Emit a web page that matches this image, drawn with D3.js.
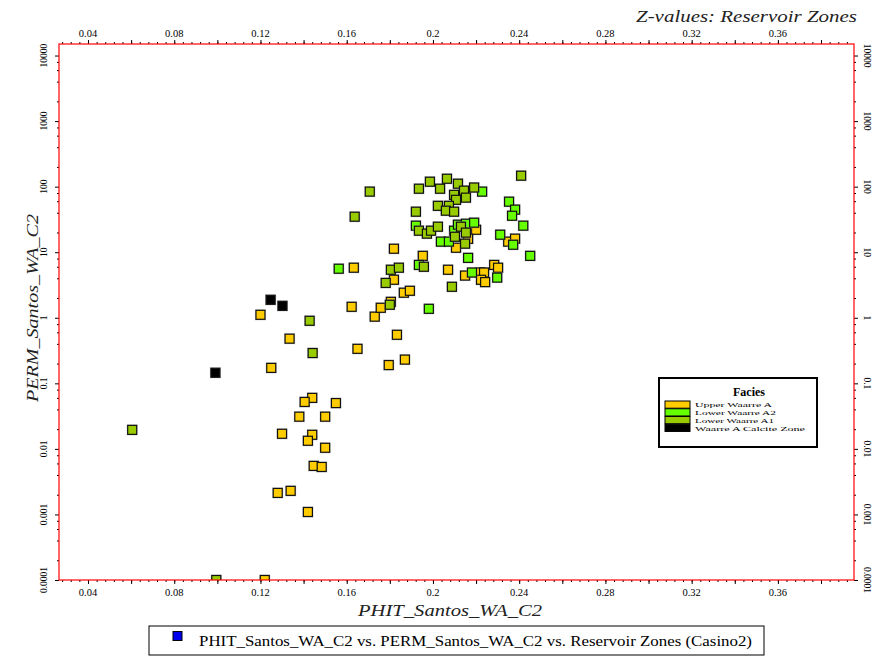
<!DOCTYPE html>
<html><head><meta charset="utf-8">
<script src="https://cdn.jsdelivr.net/npm/d3@7"></script>
<style>
body{margin:0;background:#fff}svg{display:block}
text{font-family:"Liberation Serif","DejaVu Serif","Times New Roman",serif;}
</style>
</head><body><svg id="c" width="889" height="656"></svg>
<script>
// ---------- data ----------
const xTickValues = [0.04,0.08,0.12,0.16,0.2,0.24,0.28,0.32,0.36];
const xTickLabels = ["0.04","0.08","0.12","0.16","0.2","0.24","0.28","0.32","0.36"];
const yTickValues = [0.0001,0.001,0.01,0.1,1,10,100,1000,10000];
const yTickLabels = ["0.0001","0.001","0.01","0.1","1","10","100","1000","10000"];
const faciesNames = ["Upper Waarre A","Lower Waarre A2","Lower Waarre A1","Waarre A Calcite Zone"];
const faciesColors = ["#FFCC00","#66FF00","#99CC00","#000000"];
const titleText = "Z-values: Reservoir Zones";
const xTitle = "PHIT_Santos_WA_C2";
const yTitle = "PERM_Santos_WA_C2";
const seriesLegend = "PHIT_Santos_WA_C2 vs. PERM_Santos_WA_C2 vs. Reservoir Zones (Casino2)";

const upperWaarreA = [
 [0.122,0.0001],[0.125,0.172],[0.144,0.060],[0.1405,0.052],[0.155,0.050],[0.138,0.031],
 [0.150,0.031],[0.130,0.017],[0.144,0.0164],[0.142,0.0133],[0.150,0.0104],[0.1447,0.0055],
 [0.1484,0.0053],[0.128,0.00213],[0.134,0.00229],[0.142,0.00109],[0.120,1.11],[0.1335,0.48],
 [0.165,0.336],[0.1795,0.19],[0.187,0.23],[0.1833,0.55],[0.1623,1.47],[0.173,1.04],
 [0.1758,1.42],[0.1805,1.75],[0.1865,2.41],[0.1893,2.58],[0.1819,3.8],[0.1633,5.8],
 [0.1819,11.3],[0.1953,8.8],[0.207,5.4],[0.2149,4.4],[0.2219,4.9],[0.2237,4.9],
 [0.2223,3.8],[0.2242,3.5],[0.2284,6.4],[0.2302,5.8],[0.2349,14.5],[0.2381,16.1],
 [0.220,22],[0.2163,16],[0.2107,11.7]
];
const lowerWaarreA2 = [
 [0.1563,5.6],[0.1981,1.37],[0.1935,6.4],[0.2163,8.2],[0.2181,4.9],[0.2298,4.1],
 [0.2451,8.8],[0.2372,13],[0.2312,18.5],[0.2419,25.4],[0.2353,59],[0.2381,44.6],
 [0.2367,36],[0.1921,25.4],[0.2037,14.5],[0.2074,14.5],[0.2098,21.3],[0.2116,26.3],
 [0.2153,27.2],[0.2191,28.2],[0.2228,84]
];
const lowerWaarreA1 = [
 [0.0605,0.0195],[0.0995,0.0001],[0.1428,0.9],[0.1442,0.29],[0.1707,84],[0.1637,34.8],
 [0.1805,5.4],[0.1842,5.8],[0.1781,3.4],[0.180,1.58],[0.1958,6.0],[0.2088,2.97],
 [0.2409,147],[0.1986,119],[0.2065,132],[0.1935,93],[0.2033,93],[0.2116,111],
 [0.2191,97],[0.2144,87],[0.2098,75],[0.2153,68],[0.2107,63],[0.2023,51],
 [0.2074,51],[0.206,43],[0.2098,41.5],[0.1921,41.5],[0.1935,21.3],[0.1972,19.2],
 [0.1991,21.3],[0.2023,24.5],[0.213,24.5],[0.2153,19.9],[0.2102,17.2],[0.2149,13.5]
];
const calciteZone = [
 [0.0991,0.145],[0.1247,1.88],[0.1302,1.52]
];
const seriesList = [upperWaarreA, lowerWaarreA2, lowerWaarreA1, calciteZone];

// ---------- layout ----------
const L = 59, R = 854, T = 44, B = 580;
const svg = d3.select("#c");
const legendTextWidths = [77, 81, 79, 110];

const x = d3.scaleLinear().domain([0.02655, 0.3953]).range([L, R]);
const y = d3.scaleLog().domain([1e-4, 15000]).range([B, T]);

// minor / medium ticks
const xMinor = d3.range(7, 99).map(i => +(i * 0.004).toFixed(3)).filter(v => v >= x.domain()[0] && v <= x.domain()[1]);
const xMedium = d3.range(2, 20).map(i => +(i * 0.02).toFixed(2)).filter(v => v <= x.domain()[1]);
const yMinor = [];
yTickValues.forEach(d => [2,4,6,8].forEach(m => { const v = d * m; if (v <= y.domain()[1]) yMinor.push(v); }));

function tickLayer(axisFn, scale, vals, size, tx, ty) {
  const g = svg.append("g").attr("transform", `translate(${tx},${ty})`)
    .call(axisFn(scale).tickValues(vals).tickSize(size).tickFormat(""));
  g.select(".domain").remove();
  g.selectAll("line").attr("stroke", "#000").attr("stroke-width", 1);
  return g;
}
tickLayer(d3.axisTop, x, xMinor, 2, 0, T);
tickLayer(d3.axisTop, x, xMedium, 4, 0, T);
tickLayer(d3.axisBottom, x, xMinor, 2, 0, B);
tickLayer(d3.axisBottom, x, xMedium, 4, 0, B);
tickLayer(d3.axisLeft, y, yMinor, 2, L, 0);
tickLayer(d3.axisLeft, y, yTickValues, 4, L, 0);
tickLayer(d3.axisRight, y, yMinor, 2, R, 0);
tickLayer(d3.axisRight, y, yTickValues, 4, R, 0);

// x tick labels
xTickValues.forEach((v, i) => {
  svg.append("text").attr("x", x(v)).attr("y", 36.5).attr("text-anchor", "middle")
    .attr("font-size", 10.5).text(xTickLabels[i]);
  svg.append("text").attr("x", x(v)).attr("y", 596).attr("text-anchor", "middle")
    .attr("font-size", 10.5).text(xTickLabels[i]);
});
// y tick labels (rotated)
yTickValues.forEach((v, i) => {
  svg.append("text").attr("transform", `translate(44,${y(v)}) rotate(-90)`)
    .attr("text-anchor", "middle").attr("dy", "0.35em")
    .attr("font-size", 9.5).text(yTickLabels[i]);
  svg.append("text").attr("transform", `translate(867,${y(v)}) rotate(90)`)
    .attr("text-anchor", "middle").attr("dy", "0.35em")
    .attr("font-size", 9.5).text(yTickLabels[i]);
});

// clip + points
svg.append("clipPath").attr("id", "clip").append("rect")
  .attr("x", L).attr("y", T).attr("width", R - L).attr("height", B - T);
const pg = svg.append("g").attr("clip-path", "url(#clip)");
seriesList.forEach((s, si) => {
  const g = pg.append("g");
  g.selectAll("rect.h").data(s).join("rect").attr("class", "h")
    .attr("x", d => x(d[0]) - 5.5).attr("y", d => y(d[1]) - 5.5)
    .attr("width", 11).attr("height", 11).attr("fill", "#999").attr("opacity", 0.55);
  g.selectAll("rect.m").data(s).join("rect").attr("class", "m")
    .attr("x", d => x(d[0]) - 4.5).attr("y", d => y(d[1]) - 4.5)
    .attr("width", 9).attr("height", 9)
    .attr("fill", faciesColors[si]).attr("stroke", "#111").attr("stroke-width", 1.2);
});

// frame
svg.append("rect").attr("x", L).attr("y", T).attr("width", R - L).attr("height", B - T)
  .attr("fill", "none").attr("stroke", "#FF0000").attr("stroke-width", 1.2);

// titles
svg.append("text").attr("x", 636).attr("y", 22)
  .attr("font-style", "italic").attr("font-size", 17).attr("fill", "#222")
  .attr("textLength", 221).attr("lengthAdjust", "spacingAndGlyphs").text(titleText);
svg.append("text").attr("x", 358).attr("y", 616)
  .attr("font-style", "italic").attr("font-size", 17).attr("fill", "#222")
  .attr("textLength", 184).attr("lengthAdjust", "spacingAndGlyphs").text(xTitle);
svg.append("text").attr("transform", "translate(38,402) rotate(-90)")
  .attr("font-style", "italic").attr("font-size", 17).attr("fill", "#222")
  .attr("textLength", 188).attr("lengthAdjust", "spacingAndGlyphs").text(yTitle);

// facies legend
const lg = svg.append("g");
lg.append("rect").attr("x", 659).attr("y", 378).attr("width", 158).attr("height", 69)
  .attr("fill", "#fff").attr("stroke", "#000").attr("stroke-width", 2);
lg.append("text").attr("x", 749).attr("y", 396).attr("text-anchor", "middle")
  .attr("font-weight", "bold").attr("font-size", 12).text("Facies");
faciesNames.forEach((n, i) => {
  const yy = 401 + i * 7.75;
  lg.append("rect").attr("x", 665).attr("y", yy).attr("width", 25).attr("height", 7.2)
    .attr("fill", faciesColors[i]).attr("stroke", "#000").attr("stroke-width", 1);
  lg.append("text").attr("x", 695).attr("y", yy + 6.4)
    .attr("font-size", 6.6).attr("textLength", legendTextWidths[i])
    .attr("lengthAdjust", "spacingAndGlyphs").text(n);
});

// series legend
svg.append("rect").attr("x", 149).attr("y", 626).attr("width", 615).attr("height", 29)
  .attr("fill", "#fff").attr("stroke", "#000").attr("stroke-width", 1);
svg.append("rect").attr("x", 173).attr("y", 631.5).attr("width", 9).attr("height", 9)
  .attr("fill", "#0000EE").attr("stroke", "#000").attr("stroke-width", 1);
svg.append("text").attr("x", 199).attr("y", 646)
  .attr("font-size", 14).attr("textLength", 553).attr("lengthAdjust", "spacingAndGlyphs")
  .text(seriesLegend);
</script></body></html>
